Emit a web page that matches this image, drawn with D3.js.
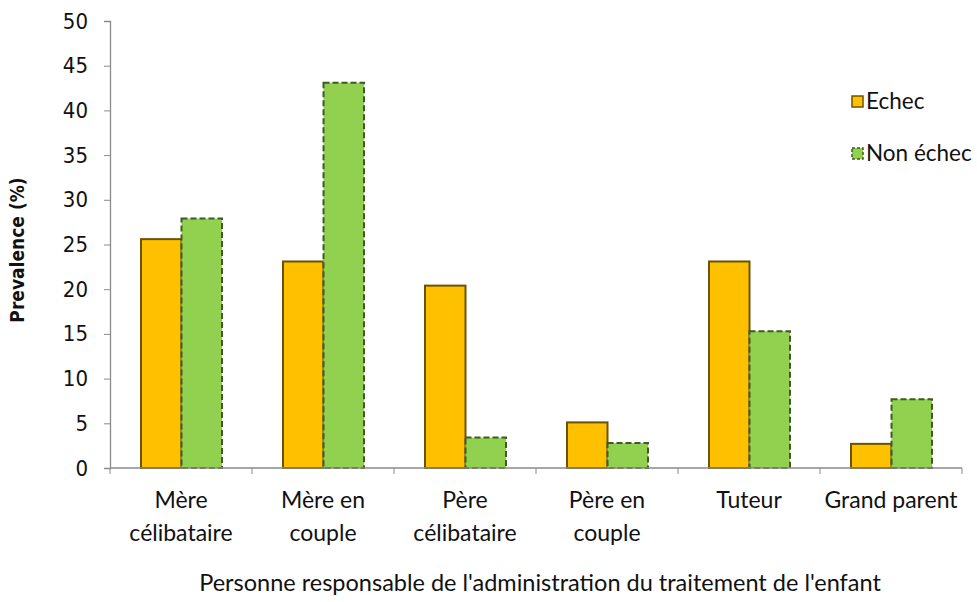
<!DOCTYPE html>
<html>
<head>
<meta charset="utf-8">
<script src="https://cdn.jsdelivr.net/npm/d3@7"></script>
<style>
  body { margin: 0; background: #fff; }
  .tick text { font-family: "DejaVu Sans Condensed", "DejaVu Sans", sans-serif; }
  .cat, .legend text, .xtitle { font-family: Lato, "Open Sans", sans-serif; fill: #111; }
</style>
</head>
<body>
<div id="chart"></div>
<script>
var categories = [["Mère", "célibataire"], ["Mère en", "couple"], ["Père", "célibataire"],
                  ["Père en", "couple"], ["Tuteur"], ["Grand parent"]];
var series = ["Echec", "Non échec"];
var echec = [25.6, 23.1, 20.4, 5.1, 23.1, 2.7];
var nonEchec = [27.9, 43.1, 3.4, 2.8, 15.3, 7.7];
var yTicks = [0, 5, 10, 15, 20, 25, 30, 35, 40, 45, 50];

var fills = ["#FFC000", "#92D050"],
    strokes = ["#6b5200", "#3f5a22"];

var width = 977, height = 602;
var svg = d3.select("#chart").append("svg")
    .attr("width", width)
    .attr("height", height);

var x0 = d3.scaleBand().domain(d3.range(categories.length)).range([110, 962]);
var x1 = d3.scaleBand().domain(d3.range(series.length)).range([31, x0.bandwidth() - 30]);
var y = d3.scaleLinear().domain([0, 50]).range([468, 21]);

// y axis
var yAxis = svg.append("g")
    .attr("transform", "translate(110,0)")
    .call(d3.axisLeft(y).tickValues(yTicks).tickSize(6).tickPadding(16));
yAxis.select(".domain").attr("stroke", "#8a8a8a").attr("stroke-width", 1.3);
yAxis.selectAll(".tick line").attr("stroke", "#8a8a8a");
yAxis.selectAll(".tick text").attr("font-size", 22).attr("fill", "#111");

svg.append("text")
    .attr("transform", "translate(24,250) rotate(-90)")
    .attr("text-anchor", "middle")
    .attr("font-family", "\"DejaVu Sans Condensed\", \"DejaVu Sans\", sans-serif")
    .attr("font-weight", "bold")
    .attr("font-size", 19)
    .attr("fill", "#111")
    .text("Prevalence (%)");

// bars
var groups = svg.selectAll(".grp")
    .data(categories.map(function(c, i) { return [echec[i], nonEchec[i]]; }))
  .enter().append("g")
    .attr("class", "grp")
    .attr("transform", function(d, i) { return "translate(" + x0(i) + ",0)"; });

groups.selectAll("rect")
    .data(function(d) { return d; })
  .enter().append("rect")
    .attr("x", function(d, j) { return x1(j); })
    .attr("y", function(d) { return y(d); })
    .attr("width", x1.bandwidth())
    .attr("height", function(d) { return y(0) - y(d); })
    .attr("fill", function(d, j) { return fills[j]; })
    .attr("stroke", function(d, j) { return strokes[j]; })
    .attr("stroke-width", 2)
    .attr("stroke-dasharray", function(d, j) { return j ? "6,3" : null; });

// x axis
var xAxis = svg.append("g");
xAxis.append("line")
    .attr("x1", 110).attr("x2", 962)
    .attr("y1", y(0)).attr("y2", y(0))
    .attr("stroke", "#8a8a8a").attr("stroke-width", 1.3);
xAxis.selectAll(".xt")
    .data(d3.range(categories.length + 1))
  .enter().append("line")
    .attr("class", "xt")
    .attr("x1", function(i) { return 110 + i * x0.step(); })
    .attr("x2", function(i) { return 110 + i * x0.step(); })
    .attr("y1", y(0)).attr("y2", y(0) + 6)
    .attr("stroke", "#8a8a8a");

xAxis.selectAll(".cat")
    .data(categories)
  .enter().append("text")
    .attr("class", "cat")
    .attr("text-anchor", "middle")
    .attr("font-size", 23)
    .attr("x", function(d, i) { return x0(i) + x0.bandwidth() / 2; })
    .attr("y", 508)
    .selectAll("tspan")
    .data(function(d) { return d; })
  .enter().append("tspan")
    .attr("x", function() { return d3.select(this.parentNode).attr("x"); })
    .attr("dy", function(d, k) { return k ? 33 : 0; })
    .text(function(d) { return d; });

svg.append("text")
    .attr("class", "xtitle")
    .attr("x", 540)
    .attr("y", 591)
    .attr("text-anchor", "middle")
    .attr("font-size", 23.5)
    .text("Personne responsable de l'administration du traitement de l'enfant");

// legend
var legend = svg.selectAll(".legend")
    .data(series)
  .enter().append("g")
    .attr("class", "legend")
    .attr("transform", function(d, i) { return "translate(852," + (96 + i * 52) + ")"; });
legend.append("rect")
    .attr("width", 11).attr("height", 11)
    .attr("fill", function(d, i) { return fills[i]; })
    .attr("stroke", function(d, i) { return strokes[i]; })
    .attr("stroke-width", 1.5)
    .attr("stroke-dasharray", function(d, i) { return i ? "3,2" : null; });
legend.append("text")
    .attr("x", 14)
    .attr("y", 13)
    .attr("font-size", 22.5)
    .text(function(d) { return d; });
</script>
</body>
</html>
